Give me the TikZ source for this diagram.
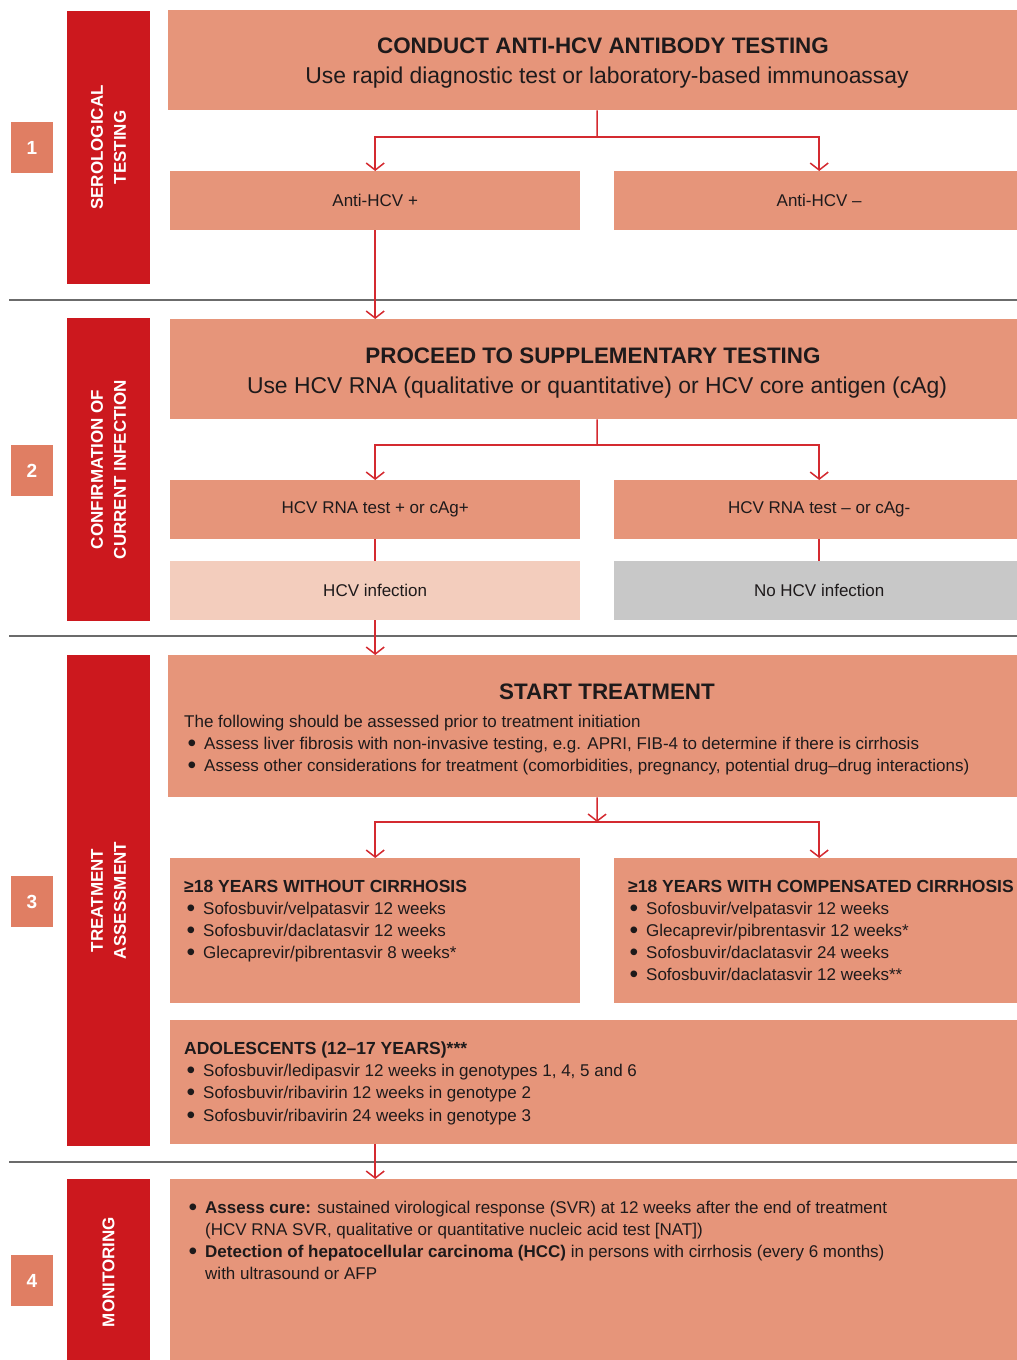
\documentclass[tikz,border=0pt]{standalone}
\usepackage{fontspec}
\setmainfont{Liberation Sans}
\usetikzlibrary{arrows.meta}
\definecolor{salmon}{HTML}{E6957A}
\definecolor{barred}{HTML}{CC181E}
\definecolor{numbox}{HTML}{E07E63}
\definecolor{lightpink}{HTML}{F3CDBD}
\definecolor{greybox}{HTML}{C8C8C8}
\definecolor{linered}{HTML}{D42A30}
\definecolor{sepgrey}{HTML}{6B6B6B}
\definecolor{ink}{HTML}{1E1A1B}
\newcommand{\bodyfont}{\fontsize{17}{22}\selectfont}
\newcommand{\headfont}{\fontsize{17.5}{22}\selectfont\bfseries}
\newcommand{\titlefont}{\fontsize{22.4}{26}\selectfont\bfseries}
\newcommand{\subfont}{\fontsize{22.9}{26}\selectfont}
\newcommand{\bul}{\makebox[0pt][r]{\raisebox{-0.12em}{\scalebox{1.45}{\textbullet}}\hspace{8pt}}}
\begin{document}
\begin{tikzpicture}[x=1pt,y=-1pt,
  box/.style={fill=#1, draw=none, inner sep=0, anchor=north west, text=ink, font=\bodyfont},
  bar/.style={fill=barred, inner sep=0, rotate=90, minimum height=83pt, text=white,
              font=\fontsize{17}{23}\selectfont\bfseries, align=center},
  numb/.style={fill=numbox, inner sep=0, minimum width=42pt, minimum height=51pt,
               text=white, font=\fontsize{19}{20}\selectfont\bfseries},
  txt/.style={inner sep=0, anchor=base west, text=ink, font=\bodyfont},
  ctxt/.style={inner sep=0, anchor=base, text=ink},
  conn/.style={draw=linered, line width=1.5pt},
  arr/.style={conn, -{Straight Barb[length=7pt,width=18pt,line width=1.5pt]}},
  sep/.style={draw=sepgrey, line width=1.2pt}]
\useasboundingbox (0,0) rectangle (1017,1360);
\clip (0,0) rectangle (1017,1360);

% separators
\draw[sep] (9,300) -- (1017,300);
\draw[sep] (9,636) -- (1017,636);
\draw[sep] (9,1162) -- (1017,1162);

% number boxes
\node[numb] (n1) at (32,147.5) {1};
\node[numb] (n2) at (32,470.5) {2};
\node[numb] (n3) at (32,901.5) {3};
\node[numb] (n4) at (32,1280.5) {4};

% red bars
\node[bar, minimum width=273pt] (rb1) at (108.5,147.5) {SEROLOGICAL\\TESTING};
\node[bar, minimum width=303pt] (rb2) at (108.5,469.5) {CONFIRMATION OF\\CURRENT INFECTION};
\node[bar, minimum width=491pt] (rb3) at (108.5,900.5) {TREATMENT\\ASSESSMENT};
\node[bar, minimum width=186pt] (rb4) at (108.5,1272) {MONITORING};

% section 1
\node[box=salmon, minimum width=858pt, minimum height=100pt] (b1) at (168,10) {};
\node[ctxt, font=\titlefont] (b1t) at (603,53) {CONDUCT ANTI-HCV ANTIBODY TESTING};
\node[ctxt, font=\subfont] (b1s) at (607,83) {Use rapid diagnostic test or laboratory-based immunoassay};
\node[box=salmon, minimum width=410pt, minimum height=59pt] (a1) at (170,171) {Anti-HCV +};
\node[box=salmon, minimum width=410pt, minimum height=59pt] (a2) at (614,171) {Anti-HCV –};
\coordinate (j1) at (597,137);
\draw[conn] (b1.south) -- (j1);
\draw[arr] (j1) -| (a1.north);
\draw[arr] (j1) -| (a2.north);

% section 2
\node[box=salmon, minimum width=854pt, minimum height=100pt] (b2) at (170,319) {};
\node[ctxt, font=\titlefont] (b2t) at (593,363) {PROCEED TO SUPPLEMENTARY TESTING};
\node[ctxt, font=\subfont] (b2s) at (597,393) {Use HCV RNA (qualitative or quantitative) or HCV core antigen (cAg)};
\draw[arr] (a1.south) -- (a1.south |- b2.north);
\node[box=salmon, minimum width=410pt, minimum height=59pt] (r1) at (170,480) {HCV RNA test + or cAg+};
\node[box=salmon, minimum width=410pt, minimum height=59pt] (r2) at (614,480) {HCV RNA test – or cAg-};
\coordinate (j2) at (597,445);
\draw[conn] (b2.south) -- (j2);
\draw[arr] (j2) -| (r1.north);
\draw[arr] (j2) -| (r2.north);
\node[box=lightpink, minimum width=410pt, minimum height=59pt] (i1) at (170,561) {HCV infection};
\node[box=greybox, minimum width=410pt, minimum height=59pt] (i2) at (614,561) {No HCV infection};
\draw[conn] (r1.south) -- (i1.north);
\draw[conn] (r2.south) -- (i2.north);

% section 3
\node[box=salmon, minimum width=858pt, minimum height=142pt] (st) at (168,655) {};
\draw[arr] (i1.south) -- (i1.south |- st.north);
\node[ctxt, font=\titlefont] (stt) at (607,699) {START TREATMENT};
\node[txt] (st1) at (184,727) {The following should be assessed prior to treatment initiation};
\node[txt] (st2) at (204,749) {\bul Assess liver fibrosis with non-invasive testing, e.g. APRI, FIB-4 to determine if there is cirrhosis};
\node[txt] (st3) at (204,771) {\bul Assess other considerations for treatment (comorbidities, pregnancy, potential drug–drug interactions)};

\node[box=salmon, minimum width=410pt, minimum height=145pt] (t1) at (170,858) {};
\node[box=salmon, minimum width=410pt, minimum height=145pt] (t2) at (614,858) {};
\coordinate (j3) at (597,822);
\draw[arr] (st.south) -- (j3);
\draw[arr] (j3) -| (t1.north);
\draw[arr] (j3) -| (t2.north);

\node[txt, font=\headfont] (t1h) at (184,892) {≥18 YEARS WITHOUT CIRRHOSIS};
\node[txt] (t1a) at (203,914) {\bul Sofosbuvir/velpatasvir 12 weeks};
\node[txt] (t1b) at (203,936) {\bul Sofosbuvir/daclatasvir 12 weeks};
\node[txt] (t1c) at (203,958) {\bul Glecaprevir/pibrentasvir 8 weeks*};

\node[txt, font=\headfont] (t2h) at (628,892) {≥18 YEARS WITH COMPENSATED CIRRHOSIS};
\node[txt] (t2a) at (646,914) {\bul Sofosbuvir/velpatasvir 12 weeks};
\node[txt] (t2b) at (646,936) {\bul Glecaprevir/pibrentasvir 12 weeks*};
\node[txt] (t2c) at (646,958) {\bul Sofosbuvir/daclatasvir 24 weeks};
\node[txt] (t2d) at (646,980) {\bul Sofosbuvir/daclatasvir 12 weeks**};

\node[box=salmon, minimum width=854pt, minimum height=124pt] (ad) at (170,1020) {};
\node[txt, font=\headfont] (adh) at (184,1054) {ADOLESCENTS (12–17 YEARS)***};
\node[txt] (ada) at (203,1076) {\bul Sofosbuvir/ledipasvir 12 weeks in genotypes 1, 4, 5 and 6};
\node[txt] (adb) at (203,1098) {\bul Sofosbuvir/ribavirin 12 weeks in genotype 2};
\node[txt] (adc) at (203,1121) {\bul Sofosbuvir/ribavirin 24 weeks in genotype 3};

% section 4
\node[box=salmon, minimum width=854pt, minimum height=191pt] (mon) at (170,1179) {};
\draw[arr] (t1.south |- ad.south) -- (t1.south |- mon.north);
\node[txt] (m1) at (205,1213) {\bul \textbf{Assess cure:} sustained virological response (SVR) at 12 weeks after the end of treatment};
\node[txt] (m2) at (205,1235) {(HCV RNA SVR, qualitative or quantitative nucleic acid test [NAT])};
\node[txt] (m3) at (205,1257) {\bul \textbf{Detection of hepatocellular carcinoma (HCC)} in persons with cirrhosis (every 6 months)};
\node[txt] (m4) at (205,1279) {with ultrasound or AFP};
\end{tikzpicture}
\end{document}
